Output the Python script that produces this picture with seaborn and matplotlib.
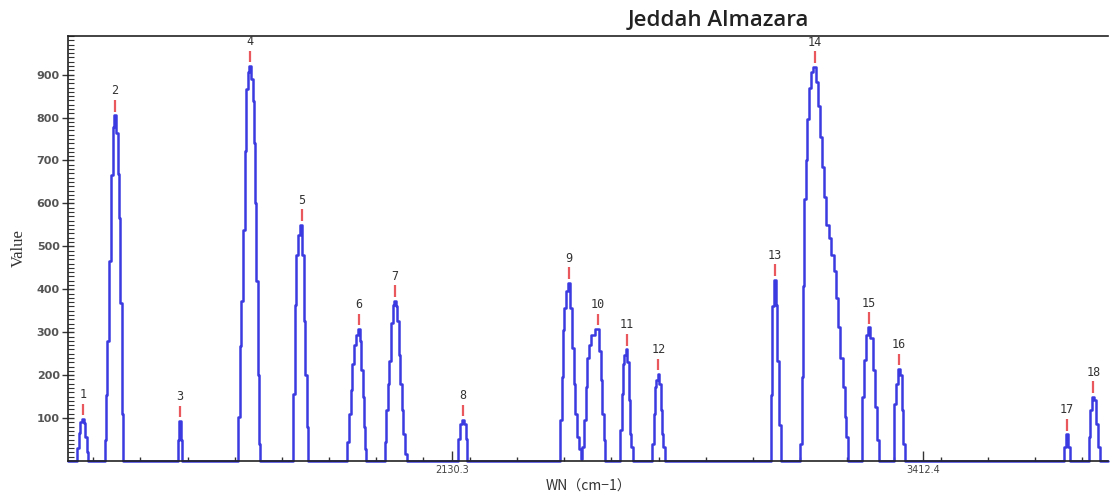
import numpy as np
import pandas as pd
import seaborn as sns
import matplotlib
matplotlib.use("Agg")
import matplotlib.pyplot as plt
from matplotlib.ticker import MultipleLocator, FixedLocator

# spectrum profile, one list per peak (WN in cm-1, value)
peak_wn_pts = [
    [1106.8, 1110.9, 1116.3, 1121.7, 1125.8, 1129.9, 1134.0, 1138.1, 1140.8],
    [1185.7, 1187.1, 1189.8, 1194.7, 1199.3, 1204.0, 1208.3, 1212.9, 1217.6, 1221.9, 1226.5, 1229.3, 1232.8, 1237.4],
    [1384.4, 1386.6, 1389.9, 1393.1, 1395.9],
    [1546.4, 1550.5, 1555.1, 1558.6, 1564.1, 1567.6, 1572.2, 1576.9, 1580.4, 1585.8, 1589.4, 1593.2, 1596.7, 1599.5, 1602.2, 1605.7, 1607.6],
    [1696.6, 1700.2, 1703.7, 1707.5, 1713.0, 1721.1, 1725.5, 1730.1, 1732.8, 1737.5, 1741.8],
    [1843.6, 1848.0, 1852.6, 1857.2, 1861.6, 1866.2, 1870.8, 1877.1, 1881.7, 1886.1, 1888.8, 1893.4, 1896.2, 1898.9],
    [1946.0, 1949.8, 1954.1, 1958.0, 1962.3, 1966.9, 1970.5, 1975.1, 1979.7, 1984.1, 1987.9, 1991.4, 1996.1, 2000.4, 2005.0, 2009.7],
    [2145.8, 2150.1, 2154.7, 2161.0, 2165.6, 2169.2, 2173.0],
    [2424.2, 2426.9, 2430.5, 2434.3, 2437.8, 2441.4, 2449.5, 2456.1, 2460.4, 2464.2, 2468.6, 2473.2, 2477.8, 2483.3,
     2486.0, 2492.3, 2496.9, 2501.3, 2505.9, 2512.1, 2525.8, 2533.1, 2537.7, 2541.3, 2544.8, 2547.5],
    [2587.5, 2590.3, 2593.8, 2597.6, 2601.2, 2605.8, 2610.1, 2612.9, 2616.7, 2621.0, 2625.7],
    [2673.8, 2677.4, 2680.9, 2684.7, 2688.3, 2691.8, 2696.4, 2700.0, 2703.8, 2708.1, 2714.7],
    [2997.7, 3000.5, 3003.2, 3009.5, 3014.1, 3017.6, 3021.2, 3028.5],
    [3077.5, 3080.2, 3083.8, 3087.6, 3091.1, 3095.7, 3100.1, 3105.5, 3110.2, 3118.3, 3125.7, 3130.0, 3134.7, 3139.3,
     3145.6, 3151.8, 3159.2, 3166.5, 3172.8, 3179.0, 3184.5, 3191.0, 3197.3, 3201.9, 3206.3, 3210.9],
    [3243.5, 3248.2, 3253.6, 3259.1, 3266.1, 3272.7, 3278.9, 3284.4, 3289.8, 3295.3],
    [3331.5, 3336.1, 3340.7, 3347.0, 3352.4, 3357.1, 3361.4, 3367.9],
    [3794.2, 3798.0, 3803.5, 3808.9, 3814.3],
    [3862.3, 3865.0, 3868.8, 3875.9, 3881.3, 3885.9, 3890.6, 3896.0],
]
peak_val_pts = [
    [0, 30, 65, 90, 97, 88, 55, 20, 0],
    [0, 50, 153, 280, 465, 667, 778, 805, 764, 669, 565, 369, 110, 0],
    [0, 49, 93, 49, 0],
    [0, 102, 268, 372, 537, 723, 866, 905, 920, 889, 838, 740, 600, 420, 200, 40, 0],
    [0, 155, 363, 479, 526, 550, 479, 327, 200, 80, 0],
    [0, 45, 110, 165, 225, 271, 294, 307, 280, 211, 148, 79, 28, 0],
    [0, 45, 118, 179, 234, 322, 364, 373, 361, 326, 248, 179, 118, 63, 17, 0],
    [0, 52, 86, 95, 86, 52, 0],
    [0, 95, 195, 304, 357, 396, 415, 357, 264, 179, 110, 56, 29, 4,
     33, 95, 172, 241, 271, 294, 307, 257, 188, 110, 49, 0],
    [0, 72, 156, 225, 248, 260, 230, 142, 63, 33, 0],
    [0, 40, 110, 172, 188, 202, 179, 118, 63, 33, 0],
    [0, 153, 361, 422, 364, 234, 84, 0],
    [0, 40, 195, 408, 611, 700, 797, 868, 905, 918, 884, 827, 755, 686,
     616, 549, 519, 480, 442, 380, 311, 241, 172, 102, 56, 0],
    [0, 148, 236, 294, 311, 287, 211, 125, 49, 0],
    [0, 132, 179, 214, 200, 118, 40, 0],
    [0, 33, 62, 33, 0],
    [0, 56, 118, 150, 141, 86, 33, 0],
]

# labelled peak tops
peak_ids = [str(i) for i in range(1, 19)]
peak_wn = [1125.8, 1212.9, 1389.9, 1580.4, 1721.1, 1877.1, 1975.1, 2161.0, 2449.5,
           2527.7, 2605.8, 2691.8, 3009.5, 3118.3, 3266.1, 3347.0, 3803.5, 3875.9]
peak_top = [97, 805, 93, 920, 550, 307, 373, 95, 415, 307, 260, 202, 422, 918, 311, 214, 62, 150]

wn_min, wn_max = 1085.0, 3916.0
x_ticks = [2130.3, 3412.4]
x_ticklabels = ["2130.3", "3412.4"]
y_ticks = [100, 200, 300, 400, 500, 600, 700, 800, 900]

wn_all = [wn_min] + [w for seg in peak_wn_pts for w in seg] + [wn_max]
val_all = [0] + [v for seg in peak_val_pts for v in seg] + [0]
df = pd.DataFrame({"wn": wn_all, "value": val_all})

sns.set_style("white")
fig = plt.figure(figsize=(11.1, 4.95), dpi=100)
ax = fig.add_axes([68/1110, 34/495, 1040/1110, 425/495])

sns.lineplot(data=df, x="wn", y="value", ax=ax, color="#3a3ae0", lw=1.8,
             drawstyle="steps-mid", clip_on=False, sort=False)

for pid, x, h in zip(peak_ids, peak_wn, peak_top):
    ax.vlines(x, h + 9, h + 36, color="#e8585c", lw=1.6)
    ax.text(x, h + 57, pid, ha="center", va="center", fontsize=8.5,
            color="#333333", family="DejaVu Sans Mono")

ax.set_xlim(wn_min, wn_max)
ax.set_ylim(0, 990)

ax.xaxis.set_major_locator(FixedLocator(x_ticks))
ax.set_xticklabels(x_ticklabels)
ax.xaxis.set_minor_locator(MultipleLocator((x_ticks[1] - x_ticks[0]) / 10))
ax.yaxis.set_major_locator(FixedLocator(y_ticks))
ax.yaxis.set_minor_locator(MultipleLocator(10))

ax.tick_params(axis="y", which="major", direction="inout", length=8, width=1,
               color="#333333", labelsize=8, labelcolor="#555555", pad=2, left=True)
ax.tick_params(axis="y", which="minor", direction="in", length=4, width=0.8,
               color="#333333", left=True)
ax.tick_params(axis="x", which="major", direction="in", length=7, width=1,
               color="#333333", labelsize=7, labelcolor="#444444", pad=3, bottom=True)
ax.tick_params(axis="x", which="minor", direction="in", length=3, width=1,
               color="#333333", bottom=True)
for lab in ax.get_yticklabels():
    lab.set_fontweight("bold")

for side in ["left", "bottom", "top"]:
    ax.spines[side].set_visible(True)
    ax.spines[side].set_color("#222222")
    ax.spines[side].set_linewidth(1.2)
ax.spines["right"].set_visible(False)

ax.set_xlabel("")
ax.set_ylabel("")
fig.text(588/1110, 1 - 487/495, "WN（cm−1）", ha="center", va="center", fontsize=10,
         family=["Noto Sans CJK SC", "DejaVu Sans"], color="#333333")
fig.text(19/1110, 1 - 248/495, "Value", ha="center", va="center", rotation=90,
         fontsize=12, family="Liberation Serif", color="#333333")
fig.text(718/1110, 1 - 20/495, "Jeddah Almazara", ha="center", va="center",
         fontsize=16, family="Open Sans", fontweight="semibold", color="#222222")

fig.savefig("out.png", dpi=100)
